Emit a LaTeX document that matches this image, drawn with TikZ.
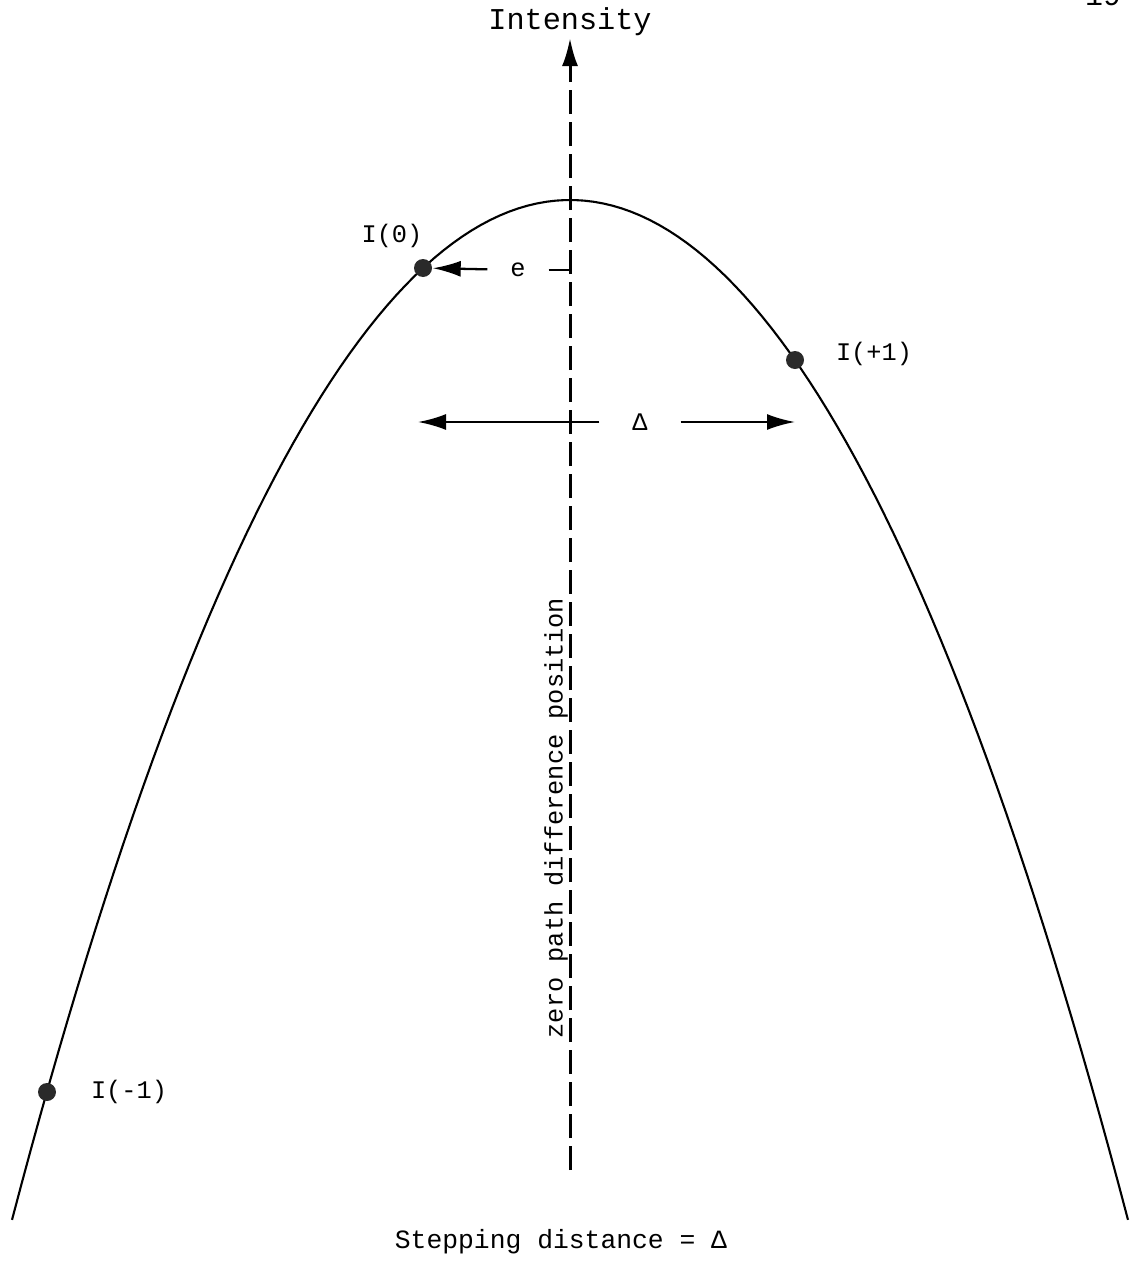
\documentclass[tikz,border=0pt]{standalone}
\usepackage{fontspec}
\usepackage{tikz}
\usetikzlibrary{arrows.meta,calc,positioning}
\newfontfamily\typew{Liberation Mono}
\definecolor{inkgray}{HTML}{2a2a2a}

\begin{document}
\begin{tikzpicture}[x=0.1mm, y=-0.1mm, >={Latex[length=2.8mm,width=1.6mm]},
    dot/.style={circle, fill=inkgray, minimum size=1.8mm, inner sep=0pt},
    lbl/.style={font=\typew\fontsize{7.2}{8}\selectfont, inner sep=1pt},
    axisline/.style={line width=0.85pt, dash pattern=on 2.4mm off 0.8mm},
    curve/.style={line width=0.6pt},
    dimline/.style={line width=0.65pt}]
  \useasboundingbox (0,0) rectangle (1132,1263);
  % page number, mostly cut off at the top edge
  \node[lbl, font=\typew\fontsize{8.5}{9}\selectfont] at (1103,-4) {19};
  % zero path difference axis
  \coordinate (axbot) at (570,1170);
  \coordinate (axtop) at (570,38);
  \draw[axisline, ->] (axbot) -- (axtop);
  \node[lbl, font=\typew\fontsize{8.6}{9}\selectfont] (ylab) at (570,22) {Intensity};
  \node[lbl, rotate=90] (zlab) at (556,818) {zero path difference position};
  % intensity curve (u = offset/100)
  \draw[curve] plot[domain=-5.58:5.58, samples=120]
    ({570+100*\x}, {200+31.4*\x*\x+0.0435*\x*\x*\x*\x});
  % samples
  \node[dot] (p0) at (423,268) {};
  \node[dot] (pplus) at (795,360) {};
  \node[dot] (pminus) at (47,1092) {};
  \node[lbl] at (392,236) {I(0)};
  \node[lbl] at (874,354) {I(+1)};
  \node[lbl] at (129,1092) {I(-1)};
  % offset e
  \coordinate (eax) at (570,270);
  \node[lbl, minimum width=6mm] (elab) at (518,270) {e};
  \draw[dimline, ->] (elab) -- (p0);
  \draw[dimline] (elab) -- (eax);
  % step Delta
  \coordinate (dl) at (418,422);
  \coordinate (dr) at (795,422);
  \node[lbl, minimum width=8mm] (dlab) at (640,422) {Δ};
  \draw[dimline, ->] (dlab) -- (dl);
  \draw[dimline, ->] (dlab) -- (dr);
  \node[lbl, font=\typew\fontsize{7.5}{8}\selectfont] (xlab) at (561,1242) {Stepping distance = Δ};
\end{tikzpicture}
\end{document}
